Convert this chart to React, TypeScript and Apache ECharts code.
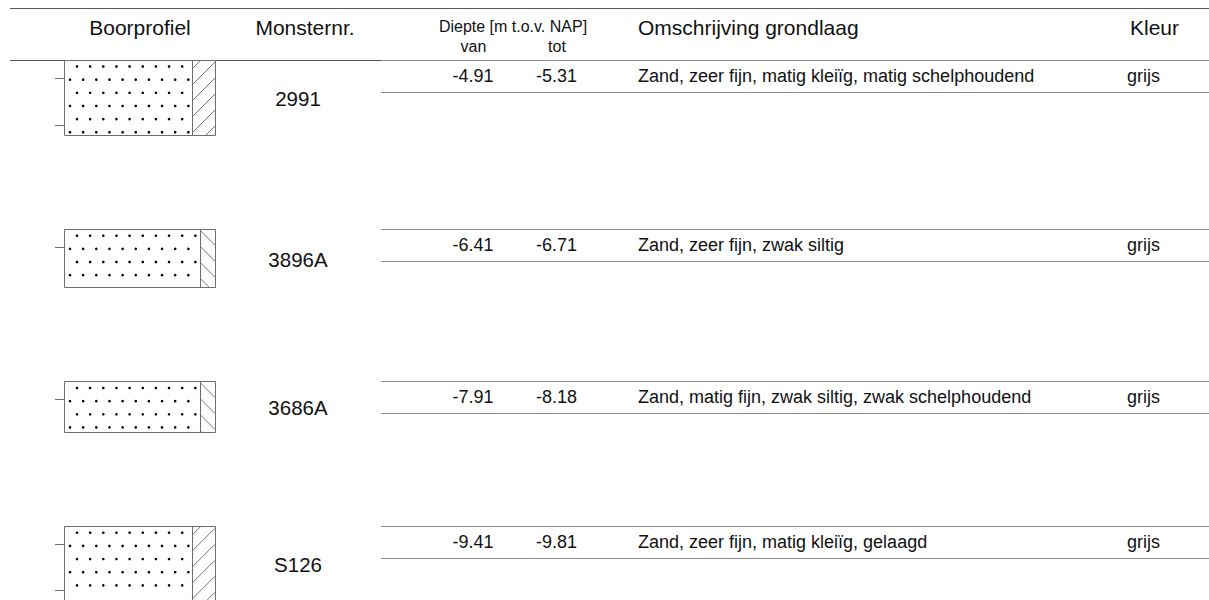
import React, { useEffect, useRef } from "react";
import * as echarts from "echarts";

// ---- data ----
const samples = ["2991", "3896A", "3686A", "S126"];
const depthFrom = [-4.91, -6.41, -7.91, -9.41];
const depthTo = [-5.31, -6.71, -8.18, -9.81];
const descriptions = [
  "Zand, zeer fijn, matig kleiïg, matig schelphoudend",
  "Zand, zeer fijn, zwak siltig",
  "Zand, matig fijn, zwak siltig, zwak schelphoudend",
  "Zand, zeer fijn, matig kleiïg, gelaagd",
];
const colours = ["grijs", "grijs", "grijs", "grijs"];
const layerTop = [-4.81, -6.31, -7.81, -9.31];
const layerBottom = [-5.61, -6.93, -8.35, -10.11];
const admixture = ["klei", "silt", "silt", "klei"];
const admixtureDegree = ["matig", "zwak", "zwak", "matig"];
const depthTickStep = 0.5;

const headerLabels = {
  profile: "Boorprofiel",
  sample: "Monsternr.",
  depth: "Diepte [m t.o.v. NAP]",
  from: "van",
  to: "tot",
  description: "Omschrijving grondlaag",
  colour: "Kleur",
};

// ---- layout ----
const W = 1209;
const H = 600;
const PX_PER_M = 94;
const GAP_PX = 94;
const FIRST_TOP = 60;
const FONT = "'Liberation Sans', Arial, Helvetica, sans-serif";
const BOX_L = 64;
const BOX_R = 215;
const ROW_H = 32;
const LINE_L = 381;

function gridTops(): number[] {
  const tops: number[] = [];
  let t = FIRST_TOP;
  for (let i = 0; i < samples.length; i++) {
    tops.push(t);
    t += (layerTop[i] - layerBottom[i]) * PX_PER_M + GAP_PX;
  }
  return tops;
}

const px = (v: number) => Math.round(v) + 0.5;

function renderRow(params: any, api: any) {
  const i = api.value(0) as number;
  const yTop = api.coord([0, layerTop[i]])[1];
  const yBot = api.coord([0, layerBottom[i]])[1];
  const children: any[] = [];
  const hatchW = admixtureDegree[i] === "matig" ? 23 : 15;
  const hx = BOX_R - hatchW;
  const stroke = "#6e6e6e";

  // dots (sand)
  const dx = 13.15;
  let r = 0;
  for (let y = yTop + 6.5; y <= yBot - 2; y += 13.15, r++) {
    const start = r % 2 === 0 ? 77 : 70;
    for (let x = start; x <= hx - 3; x += dx) {
      children.push({
        type: "circle",
        shape: { cx: x, cy: y, r: 1.3 },
        style: { fill: "#000" },
      });
    }
  }

  // hatch
  const sp = 16;
  const w = hatchW;
  const slash = admixture[i] === "klei";
  for (let c = yTop - w - sp; c <= yBot + w + sp; c += sp) {
    let a: number, b: number;
    if (slash) {
      a = Math.max(0, c - yBot);
      b = Math.min(w, c - yTop);
      if (b <= a) continue;
      children.push({
        type: "line",
        shape: { x1: hx + a, y1: c - a, x2: hx + b, y2: c - b },
        style: { stroke: "#555", lineWidth: 0.8 },
      });
    } else {
      a = Math.max(0, yTop - c);
      b = Math.min(w, yBot - c);
      if (b <= a) continue;
      children.push({
        type: "line",
        shape: { x1: hx + a, y1: c + a, x2: hx + b, y2: c + b },
        style: { stroke: "#555", lineWidth: 0.8 },
      });
    }
  }

  // box
  children.push({
    type: "rect",
    shape: { x: px(BOX_L), y: px(yTop), width: BOX_R - BOX_L, height: Math.round(yBot - yTop) },
    style: { fill: "none", stroke, lineWidth: 1 },
  });
  children.push({
    type: "line",
    shape: { x1: px(hx), y1: px(yTop), x2: px(hx), y2: px(yBot) },
    style: { stroke, lineWidth: 1 },
  });

  // depth ticks
  const first = Math.ceil(layerBottom[i] / depthTickStep - 1e-9) * depthTickStep;
  for (let d = first; d < layerTop[i]; d += depthTickStep) {
    const ty = api.coord([0, d])[1];
    children.push({
      type: "line",
      shape: { x1: 55, y1: px(ty), x2: BOX_L, y2: px(ty) },
      style: { stroke, lineWidth: 1 },
    });
  }

  // sample label
  children.push({
    type: "text",
    x: 298,
    y: (yTop + yBot) / 2 + 1,
    style: {
      text: samples[i],
      fill: "#111",
      font: `20.5px ${FONT}`,
      align: "center",
      verticalAlign: "middle",
    },
  });

  // row lines
  const l1 = px(yTop);
  const l2 = px(yTop + ROW_H);
  children.push({
    type: "line",
    shape: { x1: LINE_L, y1: l1, x2: W, y2: l1 },
    style: { stroke: "#8a8a8a", lineWidth: 1 },
  });
  children.push({
    type: "line",
    shape: { x1: LINE_L, y1: l2, x2: W, y2: l2 },
    style: { stroke: "#8a8a8a", lineWidth: 1 },
  });

  const ty = yTop + 15.5;
  const txt = (text: string, x: number, align: string) => ({
    type: "text",
    x,
    y: ty,
    style: { text, fill: "#111", font: `18px ${FONT}`, align, verticalAlign: "middle" },
  });
  children.push(txt(depthFrom[i].toFixed(2), 473, "center"));
  children.push(txt(depthTo[i].toFixed(2), 556.5, "center"));
  children.push(txt(descriptions[i], 638, "left"));
  children.push(txt(colours[i], 1127, "left"));

  return { type: "group", children };
}

export default function App() {
  const ref = useRef<HTMLDivElement>(null);
  useEffect(() => {
    document.body.style.margin = "0";
    if (!ref.current) return;
    const chart = echarts.init(ref.current, undefined, { renderer: "svg" });
    const tops = gridTops();
    const grids = samples.map((_, i) => ({
      left: 0,
      right: 0,
      top: tops[i],
      height: (layerTop[i] - layerBottom[i]) * PX_PER_M,
      containLabel: false,
    }));
    const xAxes = samples.map((_, i) => ({
      type: "value",
      gridIndex: i,
      min: 0,
      max: W,
      show: false,
    }));
    const yAxes = samples.map((_, i) => ({
      type: "value",
      gridIndex: i,
      min: layerBottom[i],
      max: layerTop[i],
      show: false,
    }));
    const series = samples.map((s, i) => ({
      type: "custom",
      name: s,
      xAxisIndex: i,
      yAxisIndex: i,
      clip: false,
      silent: true,
      data: [[i, layerTop[i]]],
      renderItem: renderRow,
    }));

    const hdrText = (text: string, x: number, y: number, size: number, align: string) => ({
      type: "text",
      x,
      y,
      style: {
        text,
        fill: "#111",
        font: `${size}px ${FONT}`,
        align,
        verticalAlign: "middle",
      },
    });

    chart.setOption({
      animation: false,
      backgroundColor: "#ffffff",
      grid: grids,
      xAxis: xAxes,
      yAxis: yAxes,
      series,
      graphic: [
        {
          type: "line",
          shape: { x1: 10, y1: 8.5, x2: W, y2: 8.5 },
          style: { stroke: "#555", lineWidth: 1 },
        },
        {
          type: "line",
          shape: { x1: 10, y1: 60.5, x2: W, y2: 60.5 },
          style: { stroke: "#555", lineWidth: 1 },
        },
        hdrText(headerLabels.profile, 140, 27.5, 21, "center"),
        hdrText(headerLabels.sample, 305, 27.5, 21, "center"),
        hdrText(headerLabels.depth, 513, 26, 16, "center"),
        hdrText(headerLabels.from, 473.5, 46.5, 16, "center"),
        hdrText(headerLabels.to, 557, 46.5, 16, "center"),
        hdrText(headerLabels.description, 638, 27.5, 21, "left"),
        hdrText(headerLabels.colour, 1130, 27.5, 21, "left"),
      ],
    });
    return () => chart.dispose();
  }, []);
  return <div ref={ref} style={{ width: W, height: H }} />;
}
